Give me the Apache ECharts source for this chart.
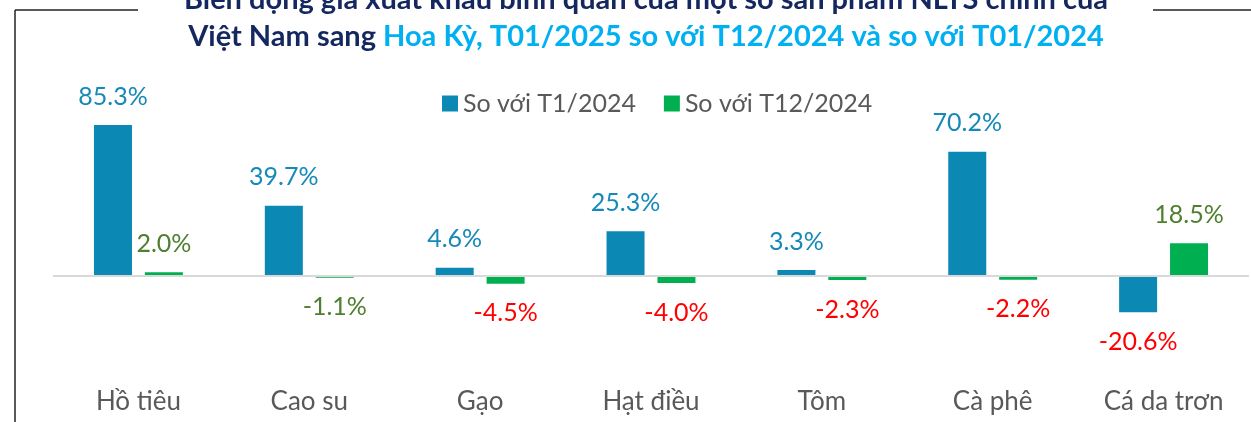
<!DOCTYPE html>
<html>
<head>
<meta charset="utf-8">
<script src="https://cdn.jsdelivr.net/npm/echarts@6/dist/echarts.min.js"></script>
<style>
  html, body { margin: 0; padding: 0; background: #fff; }
  #chart { width: 1251px; height: 422px; }
</style>
</head>
<body>
<div id="chart"></div>
<script>
  // categories and values (%)
  var categories = ['Hồ tiêu', 'Cao su', 'Gạo', 'Hạt điều', 'Tôm', 'Cà phê', 'Cá da trơn'];
  var soVoiT1 = [85.3, 39.7, 4.6, 25.3, 3.3, 70.2, -20.6];
  var soVoiT12 = [2.0, -1.1, -4.5, -4.0, -2.3, -2.2, 18.5];
  var seriesNames = ['So với T1/2024', 'So với T12/2024'];

  var FONT = 'Lato, "Open Sans", sans-serif';
  var RED = '#ff0000';

  // turn plain values into bar items with label colour / side
  // (small dips like -1.1% keep the series colour, bigger drops go red)
  function toItems(vals, posColor) {
    return vals.map(function (v) {
      return {
        value: v,
        label: {
          position: v < 0 ? 'bottom' : 'top',
          distance: v < 0 ? 17 : 16,
          color: v < -2 ? RED : posColor
        }
      };
    });
  }

  var myChart = echarts.init(document.getElementById('chart'));

  var option = {
    animation: false,
    backgroundColor: '#fff',
    textStyle: { fontFamily: FONT },
    graphic: [
      // frame lines
      { type: 'line', shape: { x1: 15, y1: 10, x2: 138, y2: 10 }, style: { stroke: '#222', lineWidth: 1.5 } },
      { type: 'line', shape: { x1: 1153, y1: 10, x2: 1251, y2: 10 }, style: { stroke: '#222', lineWidth: 1.5 } },
      { type: 'line', shape: { x1: 15, y1: 10, x2: 15, y2: 422 }, style: { stroke: '#222', lineWidth: 1.5 } },
      {
        type: 'text',
        x: 646,
        y: -19,
        style: {
          text: '{a|Biến động giá xuất khẩu bình quân của một số sản phẩm NLTS chính của}\n{a|Việt Nam sang }{b|Hoa Kỳ, T01/2025 so với T12/2024 và so với T01/2024}',
          align: 'center',
          verticalAlign: 'top',
          rich: {
            a: { fontFamily: FONT, fontSize: 29, fontWeight: 'bold', fill: '#14275e', lineHeight: 37 },
            b: { fontFamily: FONT, fontSize: 29, fontWeight: 'bold', fill: '#00b0f0', lineHeight: 37 }
          }
        }
      }
    ],
    legend: {
      left: 437,
      top: 86,
      itemWidth: 16,
      itemHeight: 16,
      itemGap: 28,
      icon: 'rect',
      textStyle: { fontFamily: FONT, fontSize: 25, color: '#595959' },
      data: seriesNames
    },
    grid: { left: 53, right: 2, top: 99, bottom: 40 },
    xAxis: {
      type: 'category',
      data: categories,
      axisLine: { show: false, onZero: false },
      axisTick: { show: false },
      axisLabel: { fontFamily: FONT, fontSize: 26, color: '#595959', margin: 7 }
    },
    yAxis: {
      type: 'value',
      min: -60,
      max: 100,
      show: false,
      splitLine: { show: false }
    },
    series: [
      {
        name: seriesNames[0],
        type: 'bar',
        barWidth: 38,
        barGap: '34%',
        itemStyle: { color: '#0b88b3' },
        label: {
          show: true,
          fontFamily: FONT,
          fontSize: 25,
          formatter: function (p) { return p.value.toFixed(1) + '%'; }
        },
        data: toItems(soVoiT1, '#1689b9'),
        markLine: {
          silent: true,
          symbol: 'none',
          label: { show: false },
          lineStyle: { color: '#d9d9d9', type: 'solid', width: 2 },
          data: [{ yAxis: 0 }]
        }
      },
      {
        name: seriesNames[1],
        type: 'bar',
        barWidth: 38,
        barGap: '34%',
        itemStyle: { color: '#00b050' },
        label: {
          show: true,
          fontFamily: FONT,
          fontSize: 25,
          formatter: function (p) { return p.value.toFixed(1) + '%'; }
        },
        data: toItems(soVoiT12, '#4f7f2f')
      }
    ]
  };

  myChart.setOption(option);
  window.onresize = function () {
    myChart.resize();
  };
</script>
</body>
</html>
